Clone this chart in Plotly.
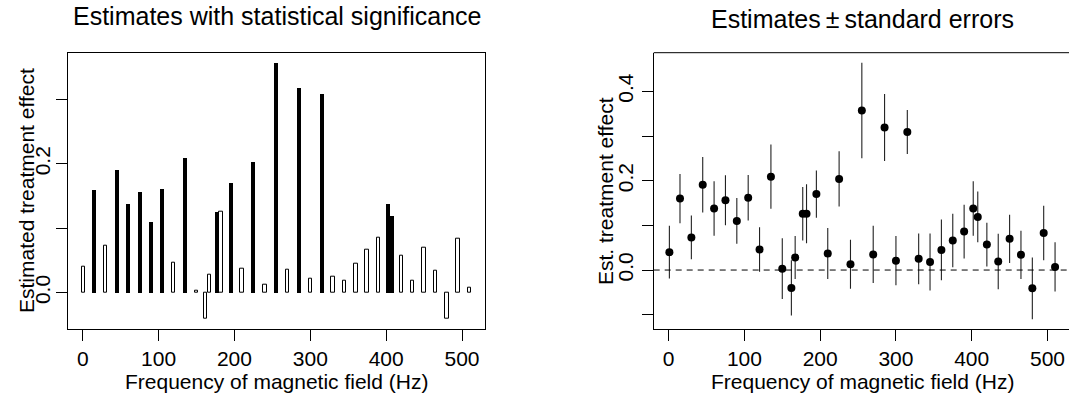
import plotly.graph_objects as go

# ---------------- data ----------------
freq = [1, 15, 30, 45, 60, 75, 90, 105, 120, 135, 150, 162, 167, 177, 182, 195,
        210, 225, 240, 255, 270, 285, 300, 315, 330, 345, 360, 375, 390, 402, 408,
        420, 435, 450, 465, 480, 495, 510]
estimate = [0.040, 0.160, 0.073, 0.191, 0.138, 0.156, 0.110, 0.162, 0.046, 0.209,
            0.003, -0.040, 0.028, 0.126, 0.126, 0.170, 0.037, 0.204, 0.013, 0.357,
            0.035, 0.319, 0.021, 0.309, 0.025, 0.018, 0.045, 0.066, 0.086, 0.138,
            0.119, 0.057, 0.019, 0.070, 0.034, -0.041, 0.083, 0.007]
std_err = [0.059, 0.055, 0.049, 0.062, 0.061, 0.056, 0.051, 0.051, 0.050, 0.072,
           0.068, 0.062, 0.048, 0.060, 0.066, 0.053, 0.057, 0.062, 0.055, 0.107,
           0.064, 0.075, 0.055, 0.049, 0.057, 0.064, 0.068, 0.060, 0.060, 0.061,
           0.057, 0.049, 0.062, 0.054, 0.054, 0.069, 0.061, 0.055]
significant = [False, True, False, True, True, True, True, True, False, True,
               False, False, False, True, False, True, False, True, False, True,
               False, True, False, True, False, False, False, False, False, True,
               True, False, False, False, False, False, False, False]

x_ticks = [0, 100, 200, 300, 400, 500]
y1_ticks = [0.0, 0.1, 0.2, 0.3]
y1_labels = ["0.0", "", "0.2", ""]
y2_ticks = [-0.1, 0.0, 0.1, 0.2, 0.3, 0.4]
y2_labels = ["", "0.0", "", "0.2", "", "0.4"]

left_title = "Estimates with statistical significance"
right_title = "Estimates\u2009\u00b1\u2009standard errors"
x_title = "Frequency of magnetic field (Hz)"
y1_title = "Estimated treatment effect"
y2_title = "Est. treatment effect"

# ---------------- geometry ----------------
W, H = 1069, 396
FONT = "Liberation Sans, Arial, Helvetica, sans-serif"


def px_x(p):
    return p / W


def px_y(p):
    return (H - p) / H


plot_top, plot_bot = 52.7, 328.7
dom_y = [px_y(plot_bot), px_y(plot_top)]
dom_x1 = [px_x(68), px_x(485)]
dom_x2 = [px_x(653.7), 1.0]

fig = go.Figure()

sig_x = [f for f, s in zip(freq, significant) if s]
sig_y = [e for e, s in zip(estimate, significant) if s]
ns_x = [f for f, s in zip(freq, significant) if not s]
ns_y = [e for e, s in zip(estimate, significant) if not s]

fig.add_trace(go.Bar(x=ns_x, y=ns_y, base=0, width=4.6,
                     marker=dict(color="white", line=dict(color="black", width=1)),
                     xaxis="x", yaxis="y", showlegend=False))
fig.add_trace(go.Bar(x=sig_x, y=sig_y, base=0, width=5.3,
                     marker=dict(color="black", line=dict(color="black", width=0)),
                     xaxis="x", yaxis="y", showlegend=False))

fig.add_trace(go.Scatter(x=freq, y=estimate, mode="markers",
                         marker=dict(color="black", size=8),
                         error_y=dict(type="data", array=std_err, visible=True,
                                      width=0, thickness=1.1, color="#222222"),
                         xaxis="x2", yaxis="y2", showlegend=False))

axis_common = dict(showgrid=False, zeroline=False, showline=True, linecolor="black",
                   linewidth=1, ticks="outside", ticklen=11, tickwidth=1,
                   automargin=False,
                   tickcolor="black", tickfont=dict(family=FONT, size=21, color="black"))

fig.update_layout(
    template="none",
    width=W, height=H, autosize=False,
    margin=dict(l=0, r=0, t=0, b=0, pad=0, autoexpand=False),
    paper_bgcolor="white", plot_bgcolor="white",
    barmode="overlay", bargap=0,
    font=dict(family=FONT, size=21, color="black"),
    xaxis=dict(domain=dom_x1, range=[-19.4, 530.3], tickvals=x_ticks, anchor="y",
               mirror=True, **axis_common),
    yaxis=dict(domain=dom_y, range=[-0.056, 0.3726], tickvals=y1_ticks,
               ticktext=y1_labels, tickangle=-90, anchor="x", mirror=True,
               ticklabelstandoff=-2, **axis_common),
    xaxis2=dict(domain=dom_x2, range=[-19.7, 528.4], tickvals=x_ticks, anchor="y2",
                **axis_common),
    yaxis2=dict(domain=dom_y, range=[-0.1313, 0.4865], tickvals=y2_ticks,
                ticktext=y2_labels, tickangle=-90, anchor="x2", **axis_common),
)

# top border of right panel
fig.add_shape(type="line", xref="x2 domain", yref="y2 domain", x0=0, x1=1, y0=1, y1=1,
              line=dict(color="black", width=1))
# dashed zero line
fig.add_shape(type="line", xref="x2 domain", yref="y2", x0=0, x1=1, y0=0, y1=0,
              line=dict(color="black", width=1, dash="6px,5px"))

ann = [
    dict(text=left_title, x=px_x(276.5), y=px_y(15.5), size=25, angle=0),
    dict(text=right_title, x=px_x(862), y=px_y(19), size=25, angle=0),
    dict(text=x_title, x=px_x(276.5), y=px_y(381.5), size=21, angle=0),
    dict(text=x_title, x=px_x(862), y=px_y(381.5), size=21, angle=0),
    dict(text=y1_title, x=px_x(26), y=px_y(191), size=21, angle=-90),
    dict(text=y2_title, x=px_x(605), y=px_y(191), size=21, angle=-90),
]
for a in ann:
    fig.add_annotation(text=a["text"], x=a["x"], y=a["y"], xref="paper", yref="paper",
                       xanchor="center", yanchor="middle", showarrow=False,
                       textangle=a["angle"],
                       font=dict(family=FONT, size=a["size"], color="black"))

fig.write_html(
    "out.html",
    config={"displayModeBar": False},
    post_script="document.body.style.margin='0px';document.body.style.overflow='hidden';",
)
